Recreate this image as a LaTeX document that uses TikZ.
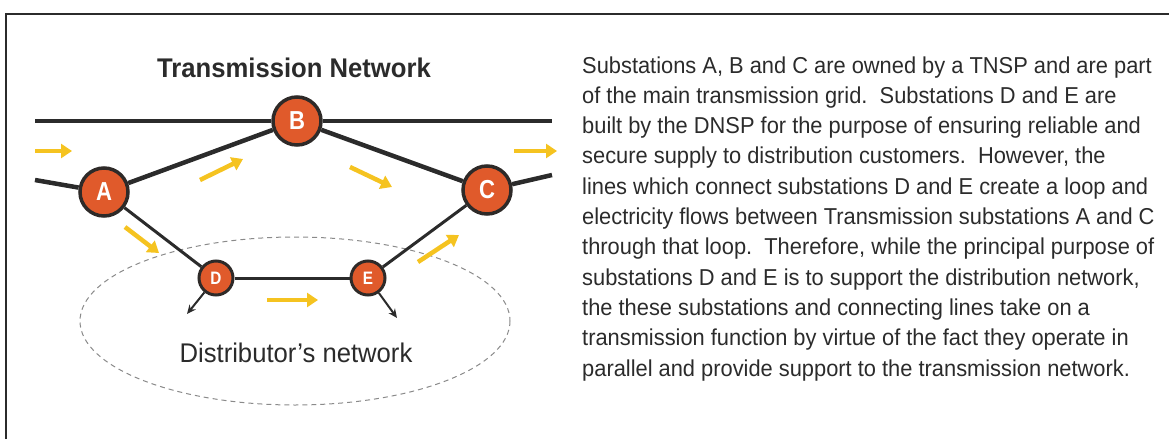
\documentclass[tikz,border=0pt]{standalone}
\usepackage{fontspec}
\setmainfont{Liberation Sans}
\newfontfamily\narrowfont[FakeStretch=0.95]{Liberation Sans}
\newfontfamily\labelfont[FakeStretch=0.85]{Liberation Sans}
\usepackage{xcolor}
\definecolor{stationOrange}{HTML}{E05A2B}
\definecolor{stationRim}{HTML}{2E2A28}
\definecolor{flowYellow}{HTML}{F5C320}
\definecolor{lineGrey}{HTML}{2B2B2B}
\definecolor{loopGrey}{HTML}{8A8A8A}
\usetikzlibrary{arrows.meta, positioning}

\begin{document}
\begin{tikzpicture}[
		x=1pt, y=-1pt,
		station/.style={
			circle,
			draw=stationRim,
			fill=stationOrange,
			line width=3.5pt,
			minimum size=48pt,
			inner sep=0pt,
			text=white,
			font=\labelfont\fontsize{26}{26}\selectfont\bfseries
		},
		substation/.style={
			station,
			minimum size=34pt,
			line width=3pt,
			font=\labelfont\fontsize{18}{18}\selectfont\bfseries
		},
		mainline/.style={lineGrey, line width=4.5pt},
		loopline/.style={lineGrey, line width=3pt},
		feeder/.style={-{Stealth[length=9pt, width=8pt]}, lineGrey, line width=2pt},
		flow/.style={-{Triangle[length=11pt, width=14pt]}, flowYellow, line width=4.5pt}
		]
		
		\useasboundingbox (0,0) rectangle (1169,439);
		\draw[lineGrey, line width=2pt] (6,439) -- (6,14) -- (1169,14);
		
		\node[font=\narrowfont\fontsize{27}{27}\selectfont\bfseries, text=lineGrey, anchor=base, inner sep=0pt] (title) at (294,77) {Transmission Network};
		
		% distributor's area
		\draw[loopGrey, line width=1pt, dash pattern=on 5pt off 4pt] (295,321) ellipse [x radius=215, y radius=84];
		\node[font=\narrowfont\fontsize{27}{27}\selectfont, text=lineGrey, anchor=base, inner sep=0pt] (distLabel) at (296,362) {Distributor’s network};
		
		% substations
		\node[station] (A) at (104,192) {A};
		\node[station] (B) at (297,121) {B};
		\node[station] (C) at (487,190) {C};
		\node[substation] (D) at (216,278) {D};
		\node[substation] (E) at (368,278) {E};
		
		\coordinate (gridWest) at (35,121);
		\coordinate (gridEast) at (552,121);
		\coordinate (feedWest) at (35,180);
		\coordinate (feedEast) at (552,175);
		\coordinate (loadD) at (187,314);
		\coordinate (loadE) at (397,318);
		
		\draw[mainline] (gridWest) -- (B);
		\draw[mainline] (B) -- (gridEast);
		\draw[mainline] (feedWest) -- (A);
		\draw[mainline] (C) -- (feedEast);
		\draw[mainline] (A) -- (B);
		\draw[mainline] (B) -- (C);
		\draw[loopline] (A) -- (D);
		\draw[loopline] (D) -- (E);
		\draw[loopline] (E) -- (C);
		\draw[feeder] (D) -- (loadD);
		\draw[feeder] (E) -- (loadE);
		
		% power flow
		\draw[flow] (35,151) -- (72,151);
		\draw[flow] (200,180) -- (243,159);
		\draw[flow] (350,167) -- (392,187);
		\draw[flow] (514,151) -- (557,151);
		\draw[flow] (125,227) -- (159,253);
		\draw[flow] (418,262) -- (459,235);
		\draw[flow] (267,300) -- (318,300);
		
		\node[anchor=base west, align=left, inner sep=0pt, text=lineGrey, font=\narrowfont\fontsize{23}{30.3}\selectfont] (note) at (582,376) {Substations A, B and C are owned by a TNSP and are part\\
			of the main transmission grid.\ \ Substations D and E are\\
			built by the DNSP for the purpose of ensuring reliable and\\
			secure supply to distribution customers.\ \ However, the\\
			lines which connect substations D and E create a loop and\\
			electricity flows between Transmission substations A and C\\
			through that loop.\ \ Therefore, while the principal purpose of\\
			substations D and E is to support the distribution network,\\
			the these substations and connecting lines take on a\\
			transmission function by virtue of the fact they operate in\\
			parallel and provide support to the transmission network.};
		
	\end{tikzpicture}
\end{document}
